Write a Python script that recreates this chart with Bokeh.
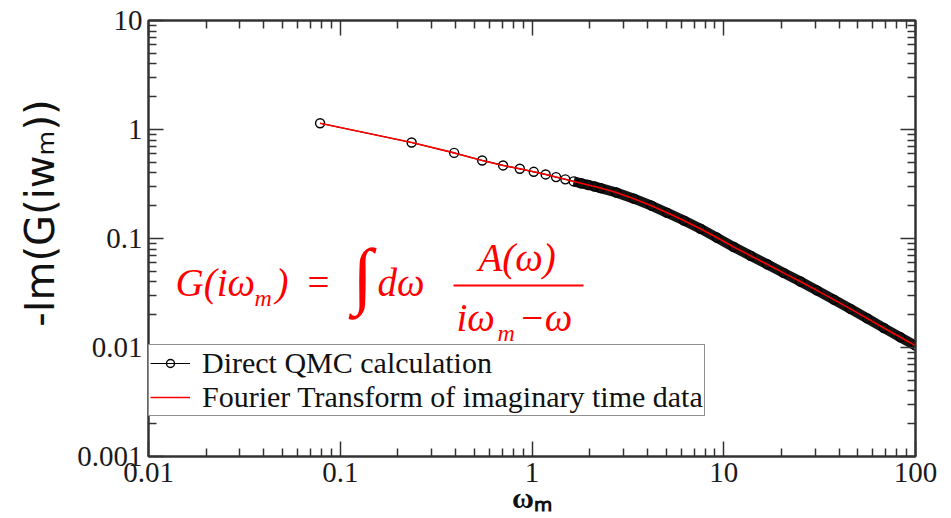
import math
from bokeh.plotting import figure
from bokeh.models import (FixedTicker, CustomJSTickFormatter, LogAxis, Label,
                          Legend, LegendItem, BoxAnnotation, Range1d)
from bokeh.embed import file_html
from bokeh.resources import INLINE

# ---------------- data ----------------
qmc_x = [0.0785, 0.2356, 0.3927, 0.5498, 0.7069, 0.8639, 1.021, 1.178, 1.335,
         1.492, 1.649, 1.806, 1.963, 2.121, 2.278, 2.75, 3.40, 4.20, 5.07, 6.20,
         7.56, 9.20, 11.28, 13.8, 16.85, 20.5, 25.1, 30.6, 37.5, 45.8, 56.0,
         68.4, 83.5, 100.0]
qmc_y = [1.142, 0.760, 0.610, 0.520, 0.468, 0.436, 0.409, 0.387, 0.366,
         0.349, 0.334, 0.321, 0.310, 0.300, 0.290, 0.264, 0.232, 0.200, 0.172,
         0.146, 0.123, 0.102, 0.0835, 0.0695, 0.0580, 0.0484, 0.0403, 0.0334,
         0.0275, 0.0226, 0.0185, 0.0151, 0.0124, 0.0104]

fourier_x = [0.0785, 0.2356, 0.3927, 0.5498, 0.7069, 0.8639, 1.021, 1.178,
             1.335, 1.492, 1.649, 1.806, 1.963, 2.121, 2.278, 2.75, 3.40, 4.20,
             5.07, 6.20, 7.56, 9.20, 11.28, 13.8, 16.85, 20.5, 25.1, 30.6, 37.5,
             45.8, 56.0, 68.4, 83.5, 100.0]
fourier_y = [1.142, 0.760, 0.610, 0.520, 0.468, 0.436, 0.409, 0.387, 0.366,
             0.349, 0.334, 0.321, 0.310, 0.300, 0.290, 0.264, 0.232, 0.200,
             0.172, 0.146, 0.123, 0.102, 0.0835, 0.0695, 0.0580, 0.0484, 0.0403,
             0.0334, 0.0275, 0.0226, 0.0185, 0.0151, 0.0124, 0.0104]

x_major = [0.01, 0.1, 1, 10, 100]
y_major = [0.001, 0.01, 0.1, 1, 10]
legend_labels = ["Direct QMC calculation",
                 "Fourier Transform of imaginary time data"]
x_title = "ωₘ"
y_title = "-Im(G(iwₘ))"

# ---------------- layout ----------------
W, H = 951, 518
FL, FR, FT, FB = 148, 915, 20, 456


def xd(px):
    return 10 ** ((px - FL) / (FR - FL) * 4 - 2)


def yd(py):
    return 10 ** (1 - (py - FT) / (FB - FT) * 4)


def minors(major):
    out = []
    for m in major[:-1]:
        for k in range(2, 10):
            out.append(m * k)
    return out


p = figure(width=W, height=H, x_axis_type="log", y_axis_type="log",
           x_range=Range1d(x_major[0], x_major[-1]),
           y_range=Range1d(y_major[0], y_major[-1]),
           output_backend="svg", toolbar_location=None,
           min_border_left=FL, min_border_right=W - FR,
           min_border_top=FT, min_border_bottom=H - FB)
p.grid.visible = False
p.outline_line_color = "#333333"
p.outline_line_width = 2
p.background_fill_color = "white"
p.border_fill_color = "white"

AX = "#333333"


def style_axis(ax, major, show_labels):
    ax.ticker = FixedTicker(ticks=major, minor_ticks=minors(major))
    ax.axis_line_color = AX
    ax.axis_line_width = 2
    ax.major_tick_in = 15
    ax.major_tick_out = 0
    ax.minor_tick_in = 8
    ax.minor_tick_out = 0
    ax.major_tick_line_color = AX
    ax.major_tick_line_width = 1.5
    ax.minor_tick_line_color = AX
    ax.minor_tick_line_width = 1.5
    if show_labels:
        ax.formatter = CustomJSTickFormatter(code="return tick.toString();")
        ax.major_label_text_font = "Liberation Serif"
        ax.major_label_text_font_size = "29px"
        ax.major_label_text_color = "#1a1a1a"
        ax.major_label_standoff = 6
    else:
        ax.formatter = CustomJSTickFormatter(code="return '';")
        ax.major_label_text_font_size = "1px"
        ax.major_label_standoff = 0


xax = p.below[0]
yax = p.left[0]
style_axis(xax, x_major, True)
style_axis(yax, y_major, True)

xax.axis_label = x_title
xax.axis_label_text_font = "Liberation Serif"
xax.axis_label_text_font_size = "30px"
xax.axis_label_text_font_style = "bold"
xax.axis_label_text_color = "#111111"
xax.axis_label_standoff = -4

# leading no-break spaces lift the visible title above the frame centre
yax.axis_label = "\u00a0" * 4 + y_title
yax.axis_label_text_font = "DejaVu Sans"
yax.axis_label_text_font_size = "40px"
yax.axis_label_text_font_style = "normal"
yax.axis_label_text_color = "#111111"
yax.axis_label_standoff = 11

top_ax = LogAxis()
right_ax = LogAxis()
style_axis(top_ax, x_major, False)
style_axis(right_ax, y_major, False)
p.add_layout(top_ax, "above")
p.add_layout(right_ax, "right")

# ---------------- data glyphs ----------------
band_x = [v for v in qmc_x if v >= 1.6]
band_y = [qmc_y[i] for i, v in enumerate(qmc_x) if v >= 1.6]
p.line(band_x, band_y, line_color="black", line_width=10, line_alpha=0.92)
qmc_line = p.line(qmc_x, qmc_y, line_color="black", line_width=1.2)
qmc_pts = p.scatter(qmc_x, qmc_y, marker="circle", size=9, line_color="black",
                    line_width=1.4, fill_alpha=0)
red_line = p.line(fourier_x, fourier_y, line_color="#ff0000", line_width=1.6)

legend = Legend(items=[LegendItem(label=legend_labels[0], renderers=[qmc_line, qmc_pts]),
                       LegendItem(label=legend_labels[1], renderers=[red_line])],
                location=(0, 40))
legend.label_text_font = "Liberation Serif"
legend.label_text_font_size = "30px"
legend.label_text_color = "#111111"
legend.border_line_color = "#222222"
legend.border_line_width = 1.5
legend.background_fill_color = "white"
legend.background_fill_alpha = 1
legend.padding = 1
legend.spacing = 0
legend.margin = 0
legend.glyph_width = 40
legend.glyph_height = 20
legend.label_height = 20
legend.label_standoff = 12
p.add_layout(legend)


# ---------------- formula ----------------
def lab(text, px, base_py, size, italic=True):
    # place by the text's middle line (baseline - 0.3375 em for this font)
    p.add_layout(Label(x=xd(px), y=yd(base_py - 0.3375 * size), text=text,
                       text_font="Liberation Serif", text_font_size=f"{size}px",
                       text_color="#ff0000",
                       text_font_style="italic" if italic else "normal",
                       text_align="left", text_baseline="middle"))


lab("G(iω", 175, 295, 39)
lab("m", 254, 306, 24)
lab(")", 275, 295, 39)
lab("=", 307, 295, 39, italic=False)
lab("∫", 352, 299, 74, italic=False)
lab("dω", 377, 295, 39)
lab("A(ω)", 478, 270, 39)
lab("iω", 456, 330, 39)
lab("m", 497, 341, 24)
lab("−ω", 518, 330, 39)
p.add_layout(BoxAnnotation(left=xd(453), right=xd(583), top=yd(284), bottom=yd(286),
                           fill_color="#ff0000", fill_alpha=1, line_alpha=0))

open("out.html", "w").write(file_html(p, INLINE))
